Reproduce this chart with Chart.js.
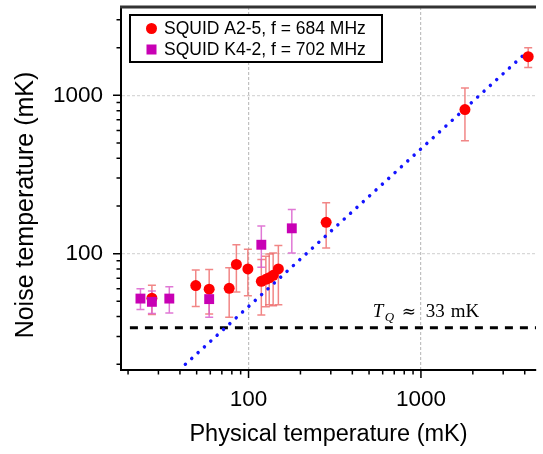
<!DOCTYPE html>
<html>
<head>
<meta charset="utf-8">
<script src="https://cdn.jsdelivr.net/npm/chart.js@4.4.0/dist/chart.umd.min.js"></script>
<style>
  html, body { margin: 0; padding: 0; background: #fff; }
  #wrap { width: 543px; height: 454px; }
</style>
</head>
<body>
<div id="wrap"><canvas id="noiseChart" width="543" height="454"></canvas></div>
<script>
// SQUID A2-5 (red circles)
const redLabel = 'SQUID A2-5, f = 684 MHz';
const redX  = [27.5, 49.4, 59.1, 77.2, 85, 99.1, 118.6, 126, 131.8, 138.9, 148.9, 282, 1800, 4190];
const redY  = [52.3, 62.8, 59.6, 60.4, 85.4, 80.1, 66.8, 68.8, 70.4, 72.9, 80.1, 157.6, 813, 1754];
const redLo = [41.3, 46.3, 41.6, 39.6, 57.3, 54.1, 41, 46.1, 47.6, 46.9, 47.6, 108.4, 516, 1497];
const redHi = [63.1, 78.7, 79.4, 81.3, 113.8, 106.4, 91.7, 96.2, 99.4, 100.9, 112.7, 209.3, 1111, 1995];

// SQUID K4-2 (magenta squares)
const magLabel = 'SQUID K4-2, f = 702 MHz';
const magX  = [23.6, 27.5, 34.7, 59.1, 118.6, 178.2];
const magY  = [52.0, 49.6, 52.0, 51.6, 113.8, 144.5];
const magLo = [44.3, 41.8, 42.2, 39.6, 82, 100.9];
const magHi = [60.1, 58.1, 61.8, 58.1, 149.6, 190];

// T_Q level and the dotted guide line
const tqLevel = 34;
const tqX = [20.5, 4650];
const guideX = [43, 3900];
const guideY = [20, 1780];

const xTicks = [20, 30, 40, 50, 60, 70, 80, 90, 100, 200, 300, 400, 500, 600, 700, 800, 900, 1000, 2000, 3000, 4000];
const yTicks = [20, 30, 40, 50, 60, 70, 80, 90, 100, 200, 300, 400, 500, 600, 700, 800, 900, 1000, 2000, 3000];
const majorTicks = [100, 1000];

const sans = "'Liberation Sans', Arial, sans-serif";
const serif = "'Liberation Serif', 'DejaVu Serif', serif";

const redColor = '#ff0000';
const magColor = '#c800b4';

// error bars go under the markers
const errorBarsPlugin = {
    id: 'errorBars',
    beforeDatasetsDraw: (chart) => {
        const {ctx, scales: {x, y}} = chart;
        const groups = [
            {xs: redX, lo: redLo, hi: redHi, color: 'rgba(238, 104, 104, 0.8)'},
            {xs: magX, lo: magLo, hi: magHi, color: 'rgba(218, 96, 206, 0.85)'}
        ];
        ctx.save();
        ctx.lineWidth = 1.5;
        groups.forEach(g => {
            ctx.strokeStyle = g.color;
            g.xs.forEach((v, i) => {
                const px = x.getPixelForValue(v);
                const top = y.getPixelForValue(g.hi[i]);
                const bot = y.getPixelForValue(g.lo[i]);
                ctx.beginPath();
                ctx.moveTo(px, top);
                ctx.lineTo(px, bot);
                ctx.moveTo(px - 4, top);
                ctx.lineTo(px + 4, top);
                ctx.moveTo(px - 4, bot);
                ctx.lineTo(px + 4, bot);
                ctx.stroke();
            });
        });
        ctx.restore();
    }
};

// tick marks, top frame, T_Q label, legend, y title
const decorPlugin = {
    id: 'decor',
    afterDraw: (chart) => {
        const {ctx, chartArea, scales: {x, y}} = chart;
        const {left, right, top, bottom} = chartArea;
        ctx.save();

        // tick marks (longer on decades)
        ctx.strokeStyle = '#000';
        ctx.lineWidth = 1.5;
        ctx.beginPath();
        xTicks.forEach(v => {
            const px = x.getPixelForValue(v);
            const len = majorTicks.includes(v) ? 8 : 4.5;
            ctx.moveTo(px, bottom);
            ctx.lineTo(px, bottom + len);
        });
        yTicks.forEach(v => {
            const py = y.getPixelForValue(v);
            const len = majorTicks.includes(v) ? 8 : 4.5;
            ctx.moveTo(left, py);
            ctx.lineTo(left - len, py);
        });
        ctx.stroke();

        // top frame line
        ctx.strokeStyle = '#333';
        ctx.lineWidth = 3;
        ctx.beginPath();
        ctx.moveTo(left - 1, top);
        ctx.lineTo(right, top);
        ctx.stroke();

        // T_Q ≈ 33 mK
        const tx = x.getPixelForValue(525);
        const ty = y.getPixelForValue(tqLevel) - 11;
        ctx.fillStyle = '#000';
        ctx.textBaseline = 'alphabetic';
        ctx.textAlign = 'left';
        ctx.font = 'italic 19px ' + serif;
        ctx.fillText('T', tx, ty);
        ctx.font = 'italic 13px ' + serif;
        ctx.fillText('Q', tx + 12, ty + 4);
        ctx.font = "17px 'DejaVu Serif', serif";
        ctx.fillText('\u2248', tx + 29, ty);
        ctx.font = '19px ' + serif;
        ctx.fillText('33', tx + 53, ty);
        ctx.fillText('mK', tx + 78, ty);

        // legend box
        const lx = left + 9, ly = top + 8, lw = 252, lh = 47;
        ctx.fillStyle = '#fff';
        ctx.fillRect(lx, ly, lw, lh);
        ctx.strokeStyle = '#000';
        ctx.lineWidth = 2;
        ctx.strokeRect(lx, ly, lw, lh);
        const rows = [
            {label: redLabel, color: redColor, shape: 'circle'},
            {label: magLabel, color: magColor, shape: 'square'}
        ];
        ctx.font = '17.5px ' + sans;
        ctx.textBaseline = 'middle';
        rows.forEach((r, i) => {
            const cy = ly + 13.5 + i * 21;
            const cx = lx + 21.5;
            ctx.fillStyle = r.color;
            if (r.shape === 'circle') {
                ctx.beginPath();
                ctx.arc(cx, cy, 5.5, 0, Math.PI * 2);
                ctx.fill();
            } else {
                ctx.fillRect(cx - 5, cy - 5, 10, 10);
            }
            ctx.fillStyle = '#000';
            ctx.fillText(r.label, lx + 34, cy + 1);
        });

        // y axis title
        ctx.translate(33, 205);
        ctx.rotate(-Math.PI / 2);
        ctx.font = '25px ' + sans;
        ctx.textAlign = 'center';
        ctx.textBaseline = 'alphabetic';
        ctx.fillStyle = '#000';
        ctx.fillText('Noise temperature (mK)', 0, 0);

        ctx.restore();
    }
};

const noiseCtx = document.getElementById('noiseChart').getContext('2d');
const noiseChart = new Chart(noiseCtx, {
    type: 'scatter',
    data: {
        datasets: [{
            label: magLabel,
            data: magX.map((v, i) => ({x: v, y: magY[i]})),
            pointStyle: 'rect',
            pointRadius: 7,
            pointHoverRadius: 7,
            backgroundColor: magColor,
            borderColor: magColor,
            borderWidth: 0,
            order: 1
        }, {
            label: redLabel,
            data: redX.map((v, i) => ({x: v, y: redY[i]})),
            pointStyle: 'circle',
            pointRadius: 5.5,
            pointHoverRadius: 5.5,
            backgroundColor: redColor,
            borderColor: redColor,
            borderWidth: 0,
            order: 2
        }, {
            label: 'guide',
            data: guideX.map((v, i) => ({x: v, y: guideY[i]})),
            showLine: true,
            pointRadius: 0,
            borderColor: '#1414ff',
            borderWidth: 3.5,
            borderDash: [0.01, 8.6],
            borderCapStyle: 'round',
            order: 3
        }, {
            label: 'T_Q',
            data: tqX.map(v => ({x: v, y: tqLevel})),
            showLine: true,
            pointRadius: 0,
            borderColor: '#000',
            borderWidth: 3,
            borderDash: [8, 7],
            order: 4
        }]
    },
    options: {
        responsive: false,
        animation: false,
        events: [],
        layout: {
            padding: {top: -3, right: 0, left: 0, bottom: 0}
        },
        plugins: {
            legend: {display: false},
            tooltip: {enabled: false}
        },
        scales: {
            x: {
                type: 'logarithmic',
                min: 18.2,
                max: 4650,
                afterBuildTicks: (scale) => {
                    scale.ticks = xTicks.map(v => ({value: v}));
                },
                afterFit: (scale) => {
                    scale.height = 84;
                    scale.paddingLeft = 0;
                    scale.paddingRight = 0;
                },
                ticks: {
                    autoSkip: false,
                    maxRotation: 0,
                    padding: 16,
                    color: '#000',
                    font: {family: sans, size: 22.5},
                    callback: (value) => majorTicks.includes(value) ? String(value) : ''
                },
                grid: {
                    color: (ctx) => majorTicks.includes(ctx.tick && ctx.tick.value) ? 'rgba(150, 150, 150, 0.6)' : 'transparent',
                    lineWidth: 1.2,
                    drawTicks: false
                },
                border: {display: true, color: '#000', width: 2, dash: [3, 2]},
                title: {
                    display: true,
                    text: 'Physical temperature (mK)',
                    color: '#000',
                    font: {family: sans, size: 23.5},
                    padding: {top: 0, bottom: 5}
                }
            },
            y: {
                type: 'logarithmic',
                min: 18.4,
                max: 3615,
                afterBuildTicks: (scale) => {
                    scale.ticks = yTicks.map(v => ({value: v}));
                },
                afterFit: (scale) => {
                    scale.width = 121;
                    scale.paddingTop = 0;
                    scale.paddingBottom = 0;
                },
                ticks: {
                    autoSkip: false,
                    padding: 18,
                    color: '#000',
                    font: {family: sans, size: 22.5},
                    callback: (value) => majorTicks.includes(value) ? String(value) : ''
                },
                grid: {
                    color: (ctx) => majorTicks.includes(ctx.tick && ctx.tick.value) ? 'rgba(190, 190, 190, 0.6)' : 'transparent',
                    lineWidth: 1.2,
                    drawTicks: false
                },
                border: {display: true, color: '#000', width: 2, dash: [3, 2]}
            }
        }
    },
    plugins: [errorBarsPlugin, decorPlugin]
});
</script>
</body>
</html>
